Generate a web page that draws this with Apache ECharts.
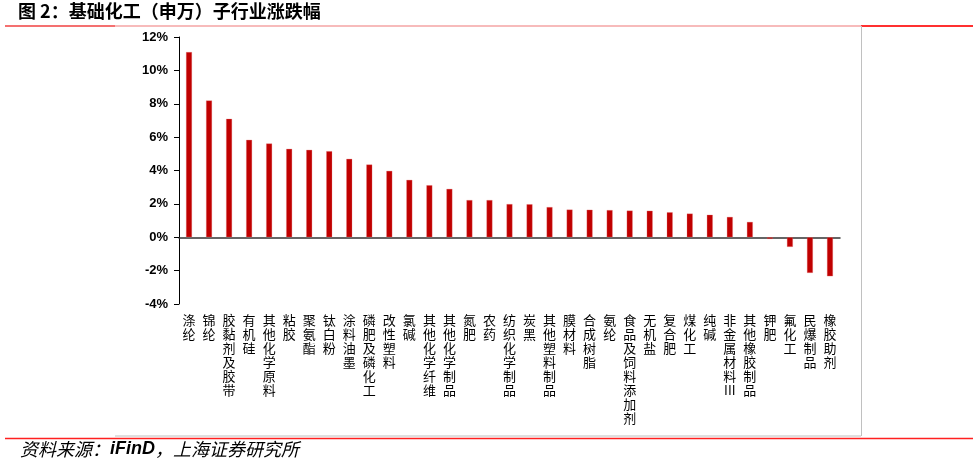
<!DOCTYPE html>
<html>
<head>
<meta charset="utf-8">
<script src="https://cdn.jsdelivr.net/npm/echarts@6/dist/echarts.min.js"></script>
<style>
html,body{margin:0;padding:0;background:#fff;}
#c{width:979px;height:465px;}
</style>
</head>
<body>
<div id="c"></div>
<script>
const categories = ['涤纶','锦纶','胶黏剂及胶带','有机硅','其他化学原料','粘胶','聚氨酯','钛白粉','涂料油墨','磷肥及磷化工','改性塑料','氯碱','其他化学纤维','其他化学制品','氮肥','农药','纺织化学制品','炭黑','其他塑料制品','膜材料','合成树脂','氨纶','食品及饲料添加剂','无机盐','复合肥','煤化工','纯碱','非金属材料III','其他橡胶制品','钾肥','氟化工','民爆制品','橡胶助剂'];
const changePct = [11.1,8.2,7.1,5.84,5.62,5.3,5.24,5.16,4.7,4.36,3.98,3.44,3.12,2.9,2.23,2.23,1.99,1.98,1.81,1.66,1.65,1.63,1.6,1.59,1.5,1.42,1.35,1.22,0.92,-0.1,-0.58,-2.14,-2.34];
const yTicks = {min: -4, max: 12, interval: 2};
const titleText = '图 2：基础化工（申万）子行业涨跌幅';
const sourcePrefix = '资料来源：';
const sourceName = 'iFinD';
const sourceSuffix = '，上海证券研究所';

function verticalize(s){
  const parts = s.match(/[A-Za-z0-9]+|./g) || [];
  return parts.join('\n');
}

const chart = echarts.init(document.getElementById('c'));
chart.setOption({
  animation: false,
  backgroundColor: '#fff',
  grid: {left: 179, right: 139, top: 37, bottom: 161, containLabel: false},
  xAxis: [{
    type: 'category',
    data: categories,
    position: 'bottom',
    axisLine: {show: false, onZero: false},
    axisTick: {show: false},
    axisLabel: {
      interval: 0,
      formatter: v => verticalize(v),
      fontSize: 13,
      lineHeight: 14,
      color: '#000',
      fontFamily: 'Noto Sans CJK SC',
      margin: 9,
      verticalAlign: 'top'
    }
  },{
    type: 'category',
    data: categories,
    position: 'bottom',
    axisLine: {show: true, onZero: true, lineStyle: {color: '#333', width: 1.5}},
    axisTick: {show: false},
    axisLabel: {show: false}
  }],
  yAxis: {
    type: 'value',
    min: yTicks.min, max: yTicks.max, interval: yTicks.interval,
    axisLine: {show: true, lineStyle: {color: '#000', width: 1}},
    axisTick: {show: true, length: 5, lineStyle: {color: '#000'}},
    splitLine: {show: false},
    axisLabel: {
      formatter: '{value}%',
      fontSize: 13,
      fontWeight: 'bold',
      fontFamily: 'Liberation Sans, Arial',
      color: '#000',
      margin: 11
    }
  },
  series: [{
    type: 'bar',
    xAxisIndex: 0,
    data: changePct,
    barWidth: 6,
    itemStyle: {color: '#C00000', borderColor: 'rgba(230,120,120,0.6)', borderWidth: 0.5}
  }],
  graphic: [
    {type: 'text', left: 18, top: 2, style: {text: titleText, font: 'bold 18px "Noto Sans CJK SC"', fill: '#000'}},
    {type: 'line', shape: {x1: 5, y1: 26, x2: 115, y2: 26}, style: {stroke: '#f04040', lineWidth: 1.5}},
    {type: 'line', shape: {x1: 115, y1: 26, x2: 861, y2: 26}, style: {stroke: '#f4a4a4', lineWidth: 1.5}},
    {type: 'line', shape: {x1: 861, y1: 26, x2: 973, y2: 26}, style: {stroke: '#ff3030', lineWidth: 2}},
    {type: 'line', shape: {x1: 861.5, y1: 26, x2: 861.5, y2: 436}, style: {stroke: '#c0c0c0', lineWidth: 1}},
    {type: 'line', shape: {x1: 115, y1: 436, x2: 861, y2: 436}, style: {stroke: '#c0c0c0', lineWidth: 1}},
    {type: 'line', shape: {x1: 5, y1: 438.5, x2: 973, y2: 438.5}, style: {stroke: '#ff2020', lineWidth: 1.5}},
    {type: 'text', left: 20, top: 440, style: {
      text: '{a|' + sourcePrefix + '}{b|' + sourceName + '}{a|' + sourceSuffix + '}',
      rich: {
        a: {font: 'italic 18px "Noto Sans CJK SC"', fill: '#000'},
        b: {font: 'italic bold 18px "Liberation Sans", Arial', fill: '#000'}
      }
    }}
  ]
});
</script>
</body>
</html>
